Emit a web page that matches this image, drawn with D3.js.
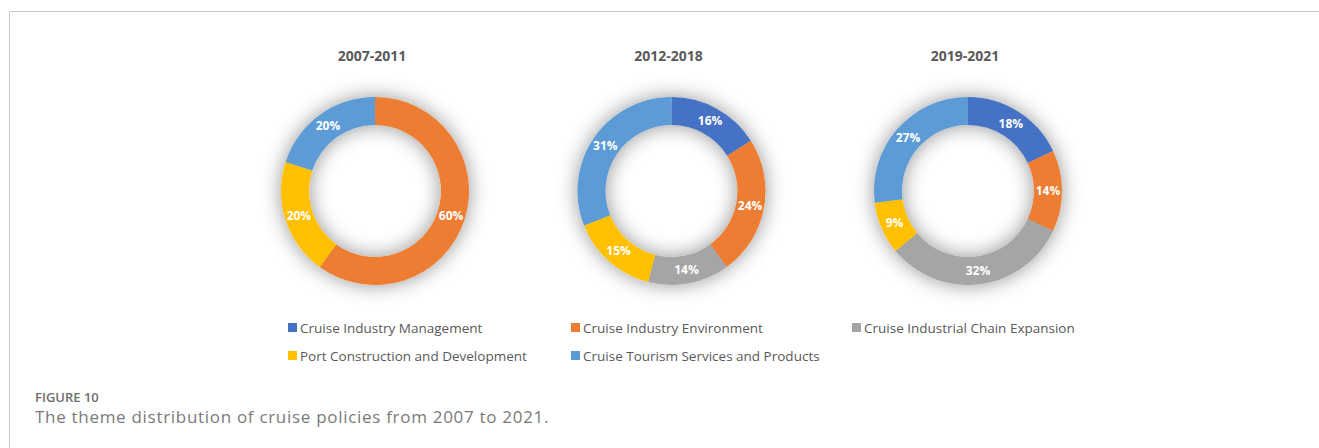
<!DOCTYPE html>
<html>
<head>
<meta charset="utf-8">
<script src="https://cdn.jsdelivr.net/npm/d3@7"></script>
<style>
  body { margin: 0; background: #fff; }
  svg { display: block; }
</style>
</head>
<body>
<svg id="chart" width="1319" height="448"></svg>
<script>
// Data
const categories = [
  'Cruise Industry Management',
  'Cruise Industry Environment',
  'Cruise Industrial Chain Expansion',
  'Port Construction and Development',
  'Cruise Tourism Services and Products'
];
const periods = ['2007-2011', '2012-2018', '2019-2021'];
const values2007 = [0, 60, 0, 20, 20];
const values2012 = [16, 24, 14, 15, 31];
const values2019 = [18, 14, 32, 9, 27];
const seriesValues = [values2007, values2012, values2019];
const colors = ['#4472C4', '#ED7D31', '#A5A5A5', '#FFC000', '#5B9BD5'];

const svg = d3.select('#chart');

// frame lines
svg.append('line').attr('x1', 9.5).attr('x2', 1319).attr('y1', 11.5).attr('y2', 11.5)
  .attr('stroke', '#c8c8c8').attr('stroke-width', 1);
svg.append('line').attr('x1', 9.5).attr('x2', 9.5).attr('y1', 11.5).attr('y2', 448)
  .attr('stroke', '#c8c8c8').attr('stroke-width', 1);

// soft shadow like the office chart
const defs = svg.append('defs');
const f = defs.append('filter').attr('id', 'glow')
  .attr('x', '-50%').attr('y', '-50%').attr('width', '200%').attr('height', '200%');
f.append('feDropShadow').attr('dx', 0).attr('dy', 0).attr('stdDeviation', 10)
  .attr('flood-color', '#000').attr('flood-opacity', 0.42);

const centerX = d3.scalePoint().domain(periods).range([375, 968]);
const color = d3.scaleOrdinal().domain(categories).range(colors);
const cy = 191;
const outerR = 94;
const innerR = 66;

const pie = d3.pie().sort(null).value(d => d.value);
const arc = d3.arc().innerRadius(innerR).outerRadius(outerR);
const labelArc = d3.arc().innerRadius((innerR + outerR) / 2).outerRadius((innerR + outerR) / 2);

periods.forEach((p, i) => {
  const data = categories.map((c, j) => ({ cat: c, value: seriesValues[i][j] }));
  const cx = centerX(p);

  svg.append('text')
    .attr('x', cx - 3).attr('y', 61)
    .attr('text-anchor', 'middle')
    .attr('font-family', 'Open Sans, sans-serif')
    .attr('font-weight', 'bold')
    .attr('font-size', 14)
    .attr('fill', '#595959')
    .text(p);

  const g = svg.append('g').attr('transform', `translate(${cx},${cy})`);
  const arcs = pie(data).filter(d => d.data.value > 0);

  g.append('g').attr('filter', 'url(#glow)')
    .selectAll('path')
    .data(arcs)
    .enter()
    .append('path')
    .attr('d', arc)
    .attr('fill', d => color(d.data.cat));

  g.selectAll('text')
    .data(arcs)
    .enter()
    .append('text')
    .attr('transform', d => `translate(${labelArc.centroid(d)})`)
    .attr('text-anchor', 'middle')
    .attr('dy', '0.35em')
    .attr('font-family', 'Open Sans, sans-serif')
    .attr('font-weight', 'bold')
    .attr('font-size', 12)
    .attr('fill', '#fff')
    .text(d => d.data.value + '%');
});

// Legend
const legendPos = [[288, 328], [571, 328], [852, 328], [288, 356], [571, 356]];
const legend = svg.append('g')
  .selectAll('g')
  .data(categories)
  .enter()
  .append('g')
  .attr('transform', (d, i) => `translate(${legendPos[i][0]},${legendPos[i][1]})`);
legend.append('rect')
  .attr('x', 0).attr('y', -5).attr('width', 9).attr('height', 9)
  .attr('fill', d => color(d));
legend.append('text')
  .attr('x', 12).attr('dy', '0.35em')
  .attr('font-family', 'Open Sans, sans-serif')
  .attr('font-size', 13.5)
  .attr('fill', '#595959')
  .text(d => d);

// Caption
svg.append('text')
  .attr('x', 35).attr('y', 402)
  .attr('font-family', 'Open Sans, sans-serif')
  .attr('font-weight', 600)
  .attr('font-size', 13)
  .attr('fill', '#6d6d6d')
  .text('FIGURE 10');
svg.append('text')
  .attr('x', 35).attr('y', 423)
  .attr('font-family', 'Open Sans, sans-serif')
  .attr('font-size', 17)
  .attr('letter-spacing', 0.7)
  .attr('fill', '#7a7a7a')
  .text('The theme distribution of cruise policies from 2007 to 2021.');
</script>
</body>
</html>
